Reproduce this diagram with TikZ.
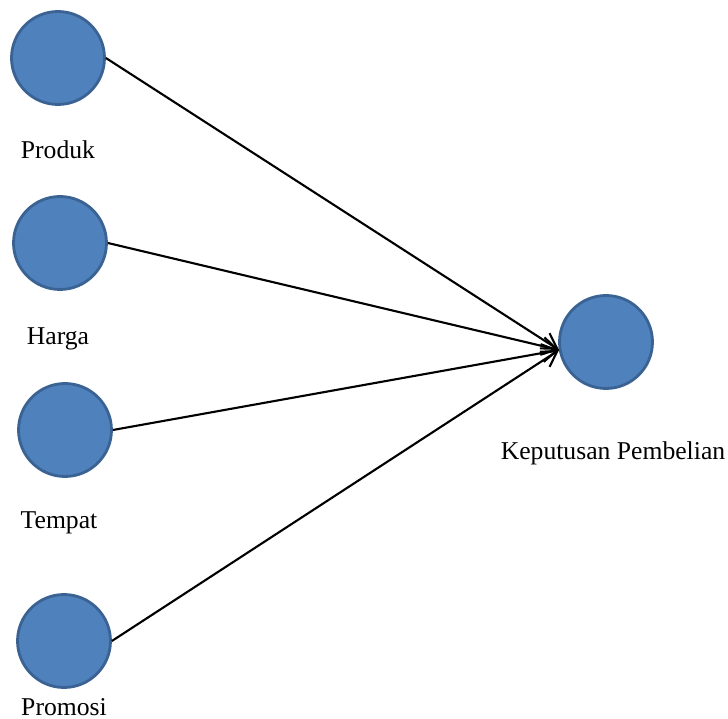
\documentclass[tikz,border=0pt]{standalone}
\usepackage{fontspec}
\setmainfont{Liberation Serif}
\usepackage{tikz}
\usetikzlibrary{arrows.meta, positioning}

\definecolor{varfill}{HTML}{4F81BD}
\definecolor{vardraw}{HTML}{3A6394}

\begin{document}
\begin{tikzpicture}[
    x=0.02cm, y=-0.02cm,
    var/.style={circle, draw=vardraw, fill=varfill, line width=1.6pt,
                minimum size=1.86cm, inner sep=0pt},
    lbl/.style={anchor=base, font=\fontsize{14.6}{17}\selectfont},
    arrow/.style={-{Straight Barb[length=3mm, width=3.6mm]}, line width=1.2pt, draw=black}
]
\useasboundingbox (0,0) rectangle (728,719);

\node[var] (produk) at (58,58) {};
\node[var] (harga) at (60,243) {};
\node[var] (tempat) at (65,430) {};
\node[var] (promosi) at (64,641) {};
\node[var] (keputusan) at (606,342) {};

\node[lbl] (lprod) at (58,159) {Produk};
\node[lbl] (lharga) at (58,345) {Harga};
\node[lbl] (ltemp) at (59,529) {Tempat};
\node[lbl] (lprom) at (64,716) {Promosi};
\node[lbl] (lkep) at (613,460) {Keputusan Pembelian};

\coordinate (hub) at (559,350);

\draw[arrow] (produk.east) -- (hub);
\draw[arrow] (harga.east) -- (hub);
\draw[arrow] (tempat.east) -- (hub);
\draw[arrow] (promosi.east) -- (hub);

\end{tikzpicture}
\end{document}
